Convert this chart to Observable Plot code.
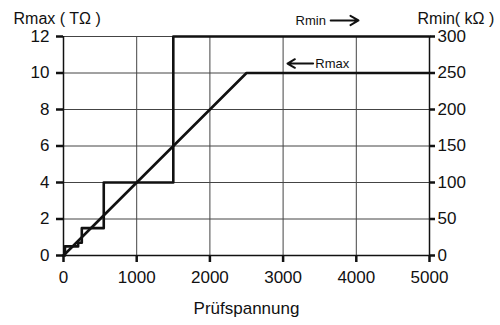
<!DOCTYPE html>
<html>
<head>
<meta charset="utf-8">
<script src="https://cdn.jsdelivr.net/npm/d3@7"></script>
<script src="https://cdn.jsdelivr.net/npm/@observablehq/plot@0.6"></script>
<style>
  html, body { margin: 0; padding: 0; background: #fff; }
  #chart svg { display: block; }
</style>
</head>
<body>
<div id="chart"></div>
<script>
// Test voltage (V) ticks and left/right axis ticks
const xTicks = [0, 1000, 2000, 3000, 4000, 5000];
const yTicksT = [0, 2, 4, 6, 8, 10, 12];          // Rmax (TΩ)
const rightTickLabels = [0, 50, 100, 150, 200, 250, 300]; // Rmin (kΩ)

// Rmax curve (TΩ) vs test voltage
const rmaxVoltage = [0, 2500, 5000];
const rmaxValue = [0, 10, 10];

// Rmin step curve (kΩ) vs test voltage
const rminVoltage = [0, 20, 200, 250, 550, 1500, 5000];
const rminValue = [0, 12.5, 17.5, 37.5, 100, 300, 300];

// kΩ per TΩ on the shared vertical scale (300 kΩ ↔ 12 TΩ)
const kPerT = 300 / 12;

const rmax = rmaxVoltage.map((v, i) => ({v, r: rmaxValue[i]}));
const rmin = rminVoltage.map((v, i) => ({v, r: rminValue[i] / kPerT}));

const labels = [
  {text: "Rmin", v: 3170, r: 12.88},
  {text: "Rmax", v: 3440, r: 10.52}
];
const arrows = [
  {v1: 3650, v2: 4030, r: 12.88},
  {v1: 3410, v2: 3060, r: 10.52}
];

const font = "Liberation Sans, Arial, Helvetica, sans-serif";

const chart = Plot.plot({
  width: 500,
  height: 325,
  marginLeft: 63,
  marginRight: 71,
  marginTop: 36,
  marginBottom: 70,
  x: {domain: [0, 5000]},
  y: {domain: [0, 12]},
  style: {fontFamily: font, fontSize: "17px", color: "#111", background: "#fff", overflow: "visible"},
  marks: [
    Plot.gridX(xTicks, {stroke: "#444", strokeOpacity: 1, strokeWidth: 1}),
    Plot.gridY(yTicksT, {stroke: "#444", strokeOpacity: 1, strokeWidth: 1}),
    Plot.ruleX([0, 5000], {stroke: "#111", strokeWidth: 1.5}),
    Plot.ruleY([0], {stroke: "#111", strokeWidth: 1.5}),
    Plot.axisX(xTicks, {
      tickSize: 7, tickPadding: 8, strokeWidth: 2.5, tickFormat: (d) => String(d),
      label: null, fontSize: 17
    }),
    Plot.text(["Prüfspannung"], {frameAnchor: "bottom", dy: 58, fontSize: 17, fill: "#111"}),
    Plot.axisY(yTicksT, {
      anchor: "left", tickSize: 7, tickPadding: 7, strokeWidth: 2.5, label: null, fontSize: 17
    }),
    Plot.axisY(yTicksT, {
      anchor: "right", tickSize: 5, tickPadding: 3, strokeWidth: 2.5, label: null, fontSize: 17,
      tickFormat: (d) => String(rightTickLabels[yTicksT.indexOf(d)])
    }),
    Plot.line(rmin, {x: "v", y: "r", curve: "step-after", stroke: "#111", strokeWidth: 2.6}),
    Plot.line(rmax, {x: "v", y: "r", stroke: "#111", strokeWidth: 2.6}),
    Plot.text(labels, {x: "v", y: "r", text: "text", textAnchor: "start", fontSize: 13, fill: "#111"}),
    Plot.arrow(arrows, {x1: "v1", x2: "v2", y1: "r", y2: "r", stroke: "#111", strokeWidth: 2, headLength: 7}),
    Plot.text(["Rmax ( TΩ )"], {frameAnchor: "top-left", dx: -50, dy: -24, textAnchor: "start", fontSize: 16, fill: "#111"}),
    Plot.text(["Rmin( kΩ )"], {frameAnchor: "top-right", dx: -12, dy: -24, textAnchor: "start", fontSize: 16, fill: "#111"})
  ]
});

document.getElementById("chart").appendChild(chart);
</script>
</body>
</html>
